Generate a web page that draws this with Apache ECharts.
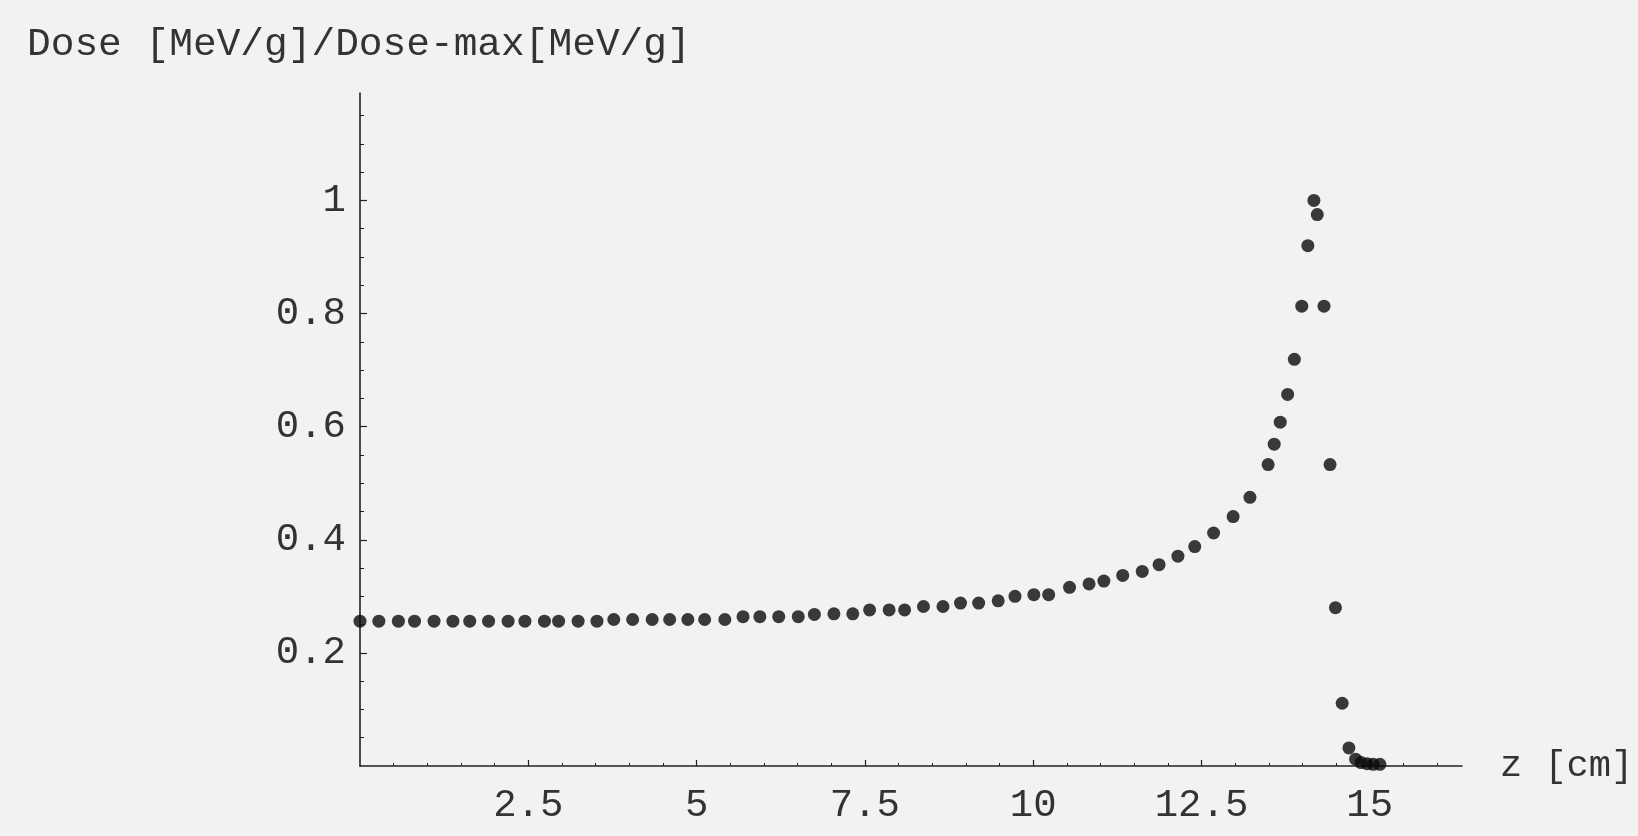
<!DOCTYPE html>
<html><head><meta charset="utf-8">
<script src="https://cdn.jsdelivr.net/npm/echarts@6/dist/echarts.min.js"></script>
<style>html,body{margin:0;padding:0;background:#f2f2f1;} #c{width:1638px;height:836px;}</style>
</head><body><div id="c"></div>
<script>
const zValues = [0,0.28,0.57,0.81,1.10,1.38,1.63,1.91,2.20,2.45,2.74,2.95,3.24,3.52,
  3.77,4.05,4.34,4.60,4.87,5.12,5.42,
  5.69,5.94,6.22,6.51,
  6.75,7.04,7.32,7.57,7.86,8.09,8.37,8.66,8.92,9.19,9.48,9.73,10.01,10.23,10.54,10.83,11.05,11.33,11.62,11.87,
  12.15,12.40,12.68,12.97,13.22,13.49,13.58,13.67,13.78,13.88,13.99,14.08,14.17,14.22,14.32,14.41,14.49,14.59,14.69,
  14.79,14.87,14.96,15.05,15.15];
const doseValues = [0.256,0.256,0.256,0.256,0.256,0.256,0.256,0.256,0.256,0.256,0.256,0.256,0.256,0.256,
  0.259,0.259,0.259,0.259,0.259,0.259,0.259,
  0.264,0.264,0.264,0.264,
  0.268,0.269,0.269,0.276,0.276,0.276,0.282,0.282,0.288,0.288,0.292,0.300,0.303,0.303,0.316,0.322,0.327,0.337,0.344,0.356,
  0.371,0.388,0.412,0.441,0.475,0.533,0.569,0.608,0.657,0.719,0.813,0.920,1.000,0.975,0.813,0.533,0.280,0.111,0.032,
  0.012,0.006,0.004,0.003,0.003];
const xMajorTicks = [2.5,5,7.5,10,12.5,15];
const xMinorTicks = [0.5,1,1.5,2,3,3.5,4,4.5,5.5,6,6.5,7,8,8.5,9,9.5,10.5,11,11.5,12,13,13.5,14,14.5,15.5,16];
const yMajorTicks = [0.2,0.4,0.6,0.8,1];
const yMinorTicks = [0.05,0.1,0.15,0.25,0.3,0.35,0.45,0.5,0.55,0.65,0.7,0.75,0.85,0.9,0.95,1.05,1.1,1.15];
const yTitle = 'Dose [MeV/g]/Dose-max[MeV/g]';
const xTitle = 'z [cm]';

const FONT = 'Liberation Mono';
const TXT = '#333333';
const LINE = '#222222';
const X_MIN = 0, X_MAX = 16.37, Y_MIN = 0, Y_MAX = 1.19;

const chart = echarts.init(document.getElementById('c'));
chart.setOption({
  backgroundColor: '#f2f2f1',
  animation: false,
  title: {
    text: yTitle, left: 22, top: 20,
    textStyle: {fontFamily: FONT, fontSize: 39.5, fontWeight: 'normal', color: TXT}
  },
  grid: {left: 360, top: 93, right: 176, bottom: 70},
  xAxis: [{
    type: 'value', min: X_MIN, max: X_MAX, position: 'bottom',
    axisLine: {show: true, lineStyle: {color: LINE, width: 1.6}},
    axisTick: {show: true, inside: true, length: 6, customValues: xMajorTicks, lineStyle: {color: LINE, width: 1.2}},
    axisLabel: {show: true, customValues: xMajorTicks, margin: 20, fontFamily: FONT, fontSize: 39, color: TXT,
      formatter: v => String(v)},
    splitLine: {show: false},
    name: xTitle, nameLocation: 'end', nameGap: 38,
    nameTextStyle: {fontFamily: FONT, fontSize: 37, color: TXT, verticalAlign: 'middle', align: 'left'}
  }, {
    type: 'value', min: X_MIN, max: X_MAX, position: 'bottom',
    axisLine: {show: false},
    axisTick: {show: true, inside: true, length: 3, customValues: xMinorTicks, lineStyle: {color: LINE, width: 1}},
    axisLabel: {show: false},
    splitLine: {show: false}
  }],
  yAxis: [{
    type: 'value', min: Y_MIN, max: Y_MAX, position: 'left',
    axisLine: {show: true, lineStyle: {color: LINE, width: 1.6}},
    axisTick: {show: true, inside: true, length: 7, customValues: yMajorTicks, lineStyle: {color: LINE, width: 1.2}},
    axisLabel: {show: true, customValues: yMajorTicks, margin: 14, fontFamily: FONT, fontSize: 39, color: TXT,
      formatter: v => String(v)},
    splitLine: {show: false}
  }, {
    type: 'value', min: Y_MIN, max: Y_MAX, position: 'left',
    axisLine: {show: false},
    axisTick: {show: true, inside: true, length: 4, customValues: yMinorTicks, lineStyle: {color: LINE, width: 1}},
    axisLabel: {show: false},
    splitLine: {show: false}
  }],
  series: [{
    type: 'scatter', xAxisIndex: 0, yAxisIndex: 0,
    symbol: 'circle', symbolSize: 13,
    itemStyle: {color: '#0a0a0a'},
    data: zValues.map((z, i) => [z, doseValues[i]])
  }]
});
</script></body></html>
